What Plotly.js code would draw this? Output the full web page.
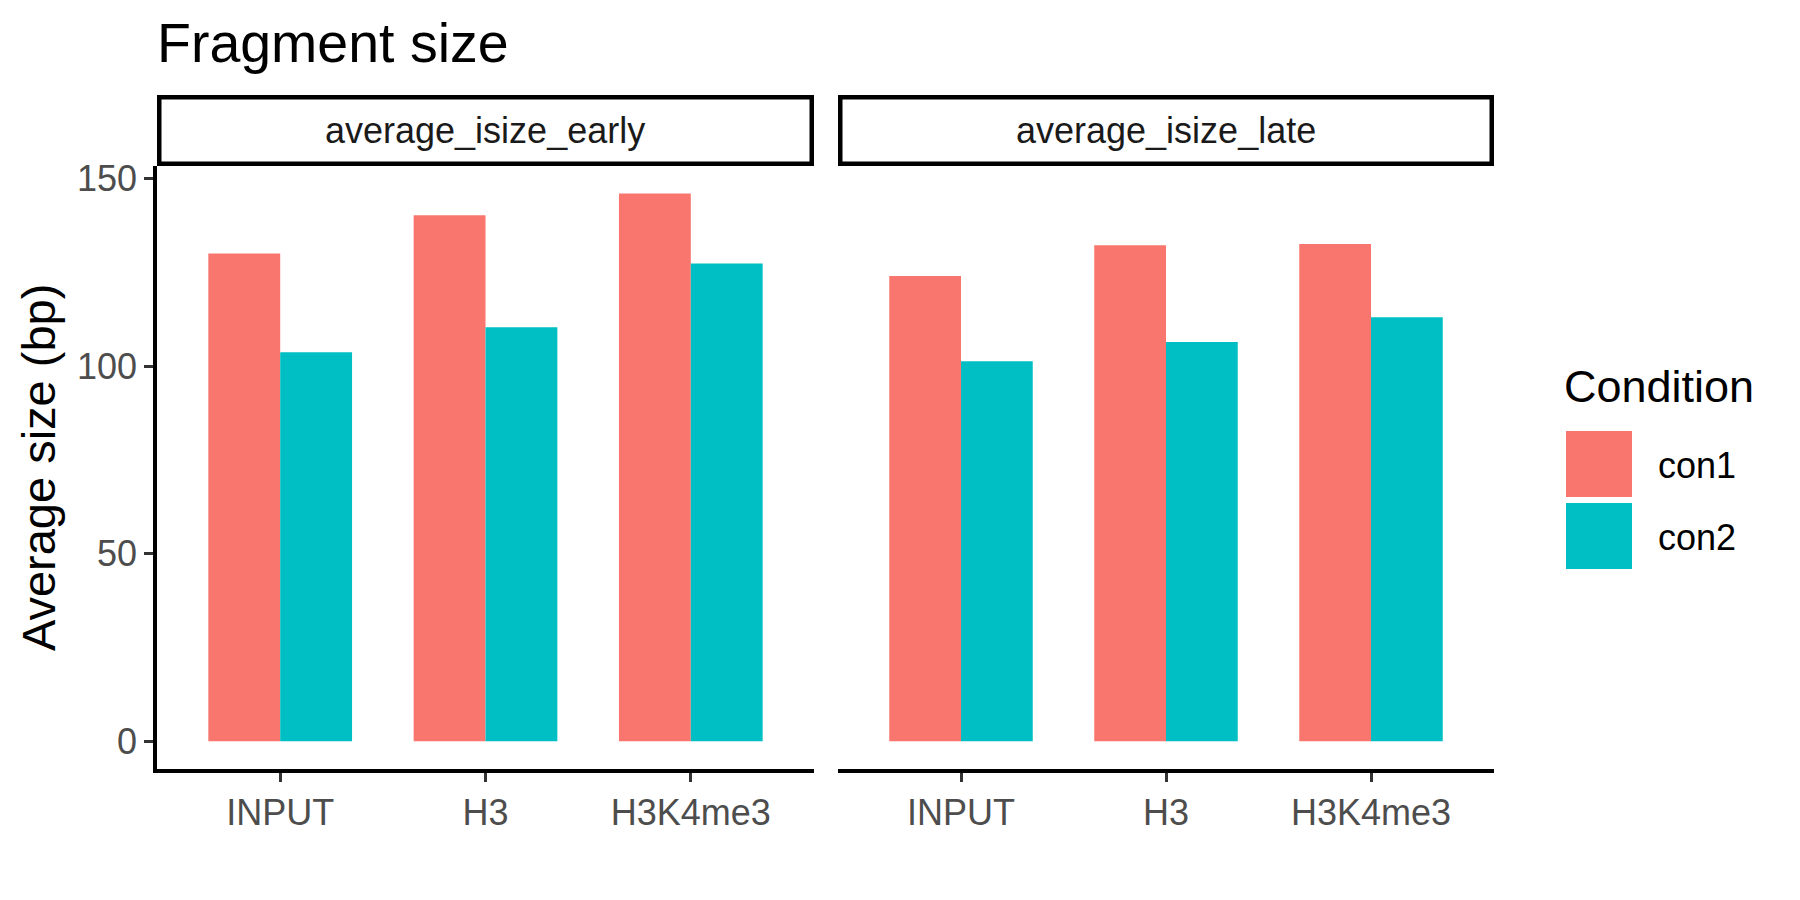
<!DOCTYPE html>
<html>
<head>
<meta charset="utf-8">
<script src="https://cdn.plot.ly/plotly-3.0.1.min.js"></script>
<style>html,body{margin:0;padding:0;background:#fff;}#chart{width:1800px;height:900px;}</style>
</head>
<body>
<div id="chart"></div>
<script>
// ---- data ----
const categories = ["INPUT", "H3", "H3K4me3"];
const facets = ["average_isize_early", "average_isize_late"];
const conditions = ["con1", "con2"];
const conditionColors = ["#F8766D", "#00BFC4"];
const early_con1 = [130.0, 140.2, 146.0];
const early_con2 = [103.7, 110.3, 127.3];
const late_con1 = [124.0, 132.2, 132.5];
const late_con2 = [101.3, 106.4, 113.0];
const yTicks = [0, 50, 100, 150];

// ---- layout helpers ----
const W = 1800, H = 900;
const px = v => v / W;
const py = v => 1 - v / H;
const FONT = "Liberation Sans, Arial, Helvetica, sans-serif";

const panelX = [[157, 814], [838, 1494]];
const panelTop = 166, panelBottom = 768.7;
const stripTop = 95, stripBottom = 166, stripBorder = 4.5;

const seriesByFacet = [[early_con1, early_con2], [late_con1, late_con2]];
const traces = [];
seriesByFacet.forEach((series, f) => {
  series.forEach((vals, c) => {
    traces.push({
      type: "bar",
      x: categories,
      y: vals,
      name: conditions[c],
      offsetgroup: conditions[c],
      marker: {color: conditionColors[c], line: {width: 0}},
      xaxis: f === 0 ? "x" : "x2",
      yaxis: f === 0 ? "y" : "y2",
      showlegend: false,
      hoverinfo: "x+y+name"
    });
  });
});

const yRange = [-7.3, 153.3];
const commonX = {
  type: "category",
  range: [-0.6, 2.6],
  showline: true, linecolor: "#000000", linewidth: 3.8,
  ticks: "outside", ticklen: 9, tickwidth: 3, tickcolor: "#333333",
  tickfont: {family: FONT, size: 36, color: "#4D4D4D"},
  showgrid: false, zeroline: false, fixedrange: true
};

const shapes = [];
const annotations = [];
const hb = stripBorder / 2;
facets.forEach((name, f) => {
  shapes.push({
    type: "rect", xref: "paper", yref: "paper",
    x0: px(panelX[f][0] + hb), x1: px(panelX[f][1] - hb),
    y0: py(stripBottom - hb), y1: py(stripTop + hb),
    line: {color: "#000000", width: stripBorder}, fillcolor: "rgba(0,0,0,0)"
  });
  annotations.push({
    xref: "paper", yref: "paper",
    x: px((panelX[f][0] + panelX[f][1]) / 2), y: py((stripTop + stripBottom) / 2),
    xanchor: "center", yanchor: "middle", showarrow: false,
    text: name, font: {family: FONT, size: 36, color: "#1A1A1A"}
  });
});

// legend (drawn manually to match the large keys)
annotations.push({
  xref: "paper", yref: "paper", x: px(1562), y: py(386),
  xanchor: "left", yanchor: "middle", showarrow: false,
  text: "Condition", font: {family: FONT, size: 45, color: "#000000"}
});
const keyTops = [431, 503];
conditions.forEach((c, i) => {
  shapes.push({
    type: "rect", xref: "paper", yref: "paper",
    x0: px(1566), x1: px(1632), y0: py(keyTops[i] + 66), y1: py(keyTops[i]),
    line: {width: 0}, fillcolor: conditionColors[i]
  });
  annotations.push({
    xref: "paper", yref: "paper", x: px(1656), y: py(keyTops[i] + 34),
    xanchor: "left", yanchor: "middle", showarrow: false,
    text: c, font: {family: FONT, size: 36, color: "#000000"}
  });
});

const layout = {
  width: W, height: H,
  margin: {l: 0, r: 0, t: 0, b: 0},
  paper_bgcolor: "#ffffff", plot_bgcolor: "#ffffff",
  font: {family: FONT},
  showlegend: false,
  barmode: "group", bargap: 0.3, bargroupgap: 0,
  title: {
    text: "Fragment size", x: px(157), xref: "paper", xanchor: "left",
    y: py(43), yref: "paper", yanchor: "middle",
    font: {family: FONT, size: 55.5, color: "#000000"}
  },
  xaxis: Object.assign({}, commonX, {domain: [px(panelX[0][0]), px(panelX[0][1])], anchor: "y"}),
  xaxis2: Object.assign({}, commonX, {domain: [px(panelX[1][0]), px(panelX[1][1])], anchor: "y2"}),
  yaxis: {
    domain: [py(panelBottom), py(panelTop)], range: yRange, anchor: "x",
    tickmode: "array", tickvals: yTicks, ticktext: yTicks.map(String),
    showline: true, linecolor: "#000000", linewidth: 3.8,
    ticks: "outside", ticklen: 9, tickwidth: 3, tickcolor: "#333333",
    tickfont: {family: FONT, size: 36, color: "#4D4D4D"},
    showgrid: false, zeroline: false, fixedrange: true,
    title: {text: "Average size (bp)", font: {family: FONT, size: 47, color: "#000000"}, standoff: 7}
  },
  yaxis2: {
    domain: [py(panelBottom), py(panelTop)], range: yRange, anchor: "x2", matches: "y",
    showline: false, showticklabels: false, ticks: "", showgrid: false, zeroline: false, fixedrange: true
  },
  shapes: shapes,
  annotations: annotations
};

Plotly.newPlot("chart", traces, layout, {displayModeBar: false, staticPlot: true});
</script>
</body>
</html>
